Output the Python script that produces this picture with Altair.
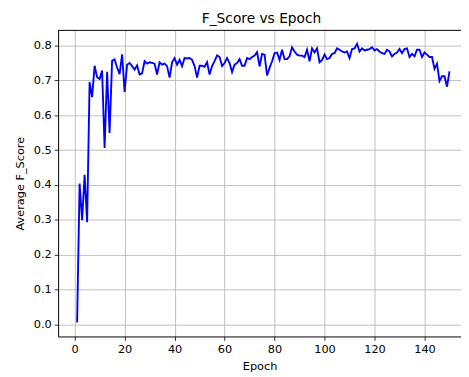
import altair as alt
import pandas as pd

epochs = list(range(1, 151))
f_score = [
    0.005, 0.404, 0.299, 0.429, 0.293, 0.695, 0.652, 0.742, 0.709, 0.704,
    0.728, 0.506, 0.725, 0.549, 0.756, 0.760, 0.737, 0.718, 0.775, 0.667,
    0.745, 0.750, 0.741, 0.731, 0.743, 0.717, 0.720, 0.755, 0.748, 0.752,
    0.750, 0.748, 0.717, 0.752, 0.745, 0.748, 0.741, 0.708, 0.752, 0.764,
    0.745, 0.759, 0.741, 0.764, 0.763, 0.764, 0.759, 0.741, 0.708, 0.742,
    0.742, 0.739, 0.752, 0.717, 0.741, 0.755, 0.772, 0.767, 0.741, 0.750,
    0.764, 0.750, 0.724, 0.745, 0.750, 0.761, 0.742, 0.742, 0.764, 0.761,
    0.767, 0.771, 0.781, 0.740, 0.776, 0.774, 0.714, 0.736, 0.755, 0.778,
    0.780, 0.759, 0.788, 0.761, 0.761, 0.769, 0.795, 0.783, 0.774, 0.771,
    0.771, 0.767, 0.788, 0.755, 0.792, 0.780, 0.792, 0.752, 0.759, 0.774,
    0.761, 0.764, 0.776, 0.778, 0.792, 0.788, 0.783, 0.780, 0.783, 0.764,
    0.790, 0.792, 0.805, 0.783, 0.792, 0.786, 0.788, 0.790, 0.795, 0.786,
    0.790, 0.783, 0.778, 0.776, 0.788, 0.783, 0.769, 0.776, 0.780, 0.790,
    0.778, 0.790, 0.792, 0.767, 0.776, 0.769, 0.788, 0.788, 0.767, 0.780,
    0.774, 0.767, 0.767, 0.733, 0.748, 0.698, 0.712, 0.712, 0.682, 0.726,
]
x_ticks = [0, 20, 40, 60, 80, 100, 120, 140]
y_ticks = [0.0, 0.1, 0.2, 0.3, 0.4, 0.5, 0.6, 0.7, 0.8]

df = pd.DataFrame({"Epoch": epochs, "F_Score": f_score})
frame_df = pd.DataFrame({"edge": ["top"]})

FONT = "DejaVu Sans"

line = alt.Chart(df).mark_line(color="#0000ff", strokeWidth=1.9).encode(
    x=alt.X(
        "Epoch:Q",
        scale=alt.Scale(domain=[-6.6, 154.6], nice=False, zero=False),
        axis=alt.Axis(
            values=x_ticks, title="Epoch", format="d",
            grid=True, gridColor="#b0b0b0", gridWidth=0.8,
            domainColor="black", domainWidth=1,
            tickColor="black", tickSize=4, tickWidth=0.8,
            labelFont=FONT, labelFontSize=11.5, labelColor="black", labelPadding=3,
            titleFont=FONT, titleFontSize=11.5, titleFontWeight="normal",
            titleColor="black", titlePadding=6,
        ),
    ),
    y=alt.Y(
        "F_Score:Q",
        scale=alt.Scale(domain=[-0.035, 0.845], nice=False, zero=False),
        axis=alt.Axis(
            values=y_ticks, title="Average F_Score", format=".1f",
            grid=True, gridColor="#b0b0b0", gridWidth=0.8,
            domainColor="black", domainWidth=1,
            tickColor="black", tickSize=4, tickWidth=0.8,
            labelFont=FONT, labelFontSize=11.5, labelColor="black", labelPadding=3,
            titleFont=FONT, titleFontSize=11.5, titleFontWeight="normal",
            titleColor="black", titlePadding=8,
        ),
    ),
)

top_rule = alt.Chart(frame_df).mark_rule(color="black", strokeWidth=1).encode(
    y=alt.value(0.5)
)

chart = alt.layer(line, top_rule).properties(
    width=410,
    height=312,
    autosize=alt.AutoSizeParams(type="none"),
    padding={"left": 51, "top": 19, "right": 0, "bottom": 38},
    title=alt.TitleParams(
        "F_Score vs Epoch", font=FONT, fontSize=14, fontWeight="normal",
        color="black", offset=7, baseline="alphabetic", dx=2, dy=14,
    ),
).configure_view(stroke=None)

chart.save("out.html", embed_options={"renderer": "svg", "actions": False})
